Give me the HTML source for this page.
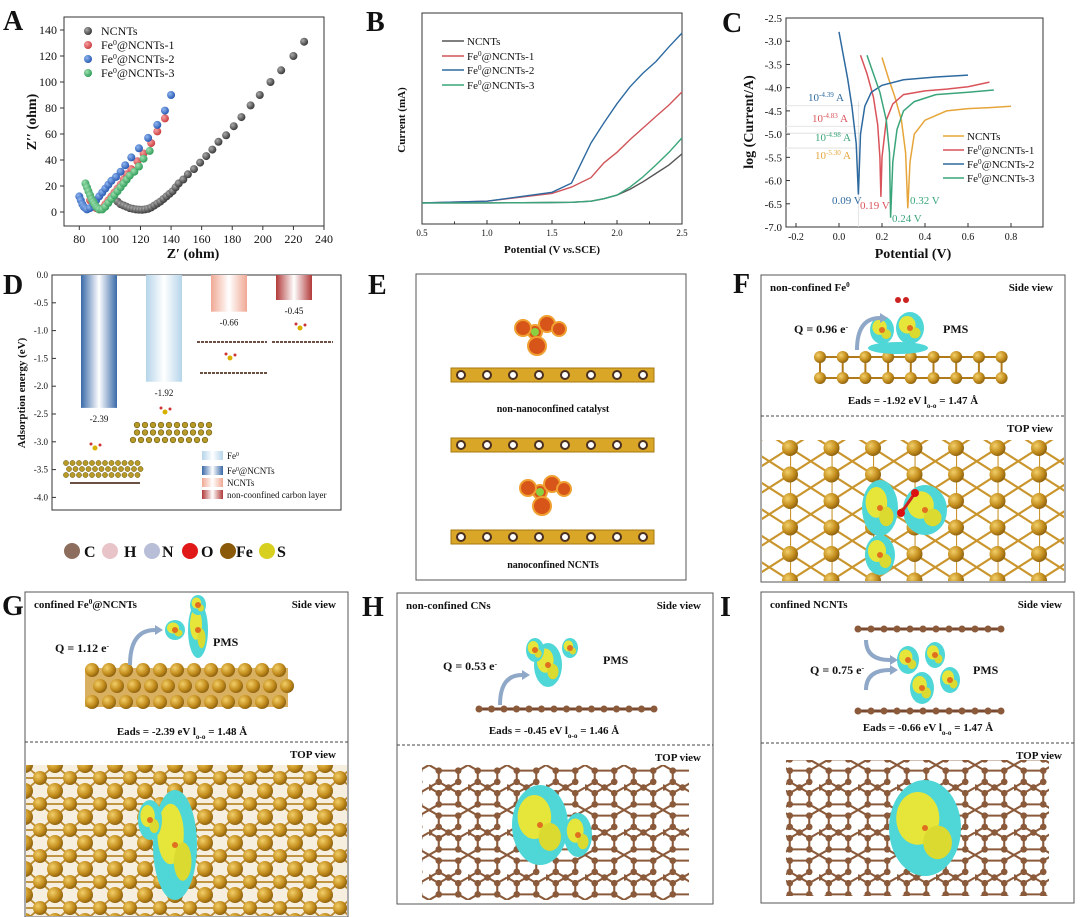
<!DOCTYPE html>
<html><head><meta charset="utf-8">
<style>
html,body{margin:0;padding:0;background:#fff;}
svg{display:block;font-family:"Liberation Serif","Noto Serif CJK SC",serif;}
</style></head>
<body>
<svg id="fig" width="1080" height="917" viewBox="0 0 1080 917" xmlns="http://www.w3.org/2000/svg">
<defs>
  <linearGradient id="gBlue" x1="0" x2="1"><stop offset="0" stop-color="#3a6aa8"/><stop offset="0.5" stop-color="#ffffff"/><stop offset="1" stop-color="#3a6aa8"/></linearGradient>
  <linearGradient id="gLBlue" x1="0" x2="1"><stop offset="0" stop-color="#b6d5ea"/><stop offset="0.5" stop-color="#ffffff"/><stop offset="1" stop-color="#b6d5ea"/></linearGradient>
  <linearGradient id="gSalmon" x1="0" x2="1"><stop offset="0" stop-color="#f0a894"/><stop offset="0.5" stop-color="#ffffff"/><stop offset="1" stop-color="#f0a894"/></linearGradient>
  <linearGradient id="gRed" x1="0" x2="1"><stop offset="0" stop-color="#b23a3a"/><stop offset="0.5" stop-color="#ffffff"/><stop offset="1" stop-color="#b23a3a"/></linearGradient>
  <radialGradient id="ball" cx="0.35" cy="0.35" r="0.7"><stop offset="0" stop-color="#f2cf6a"/><stop offset="0.6" stop-color="#c58f1e"/><stop offset="1" stop-color="#8a5e0e"/></radialGradient>
  <radialGradient id="mk0" cx="0.35" cy="0.35" r="0.7"><stop offset="0" stop-color="#aaa"/><stop offset="1" stop-color="#333"/></radialGradient>
  <radialGradient id="mk1" cx="0.35" cy="0.35" r="0.7"><stop offset="0" stop-color="#f7a0a0"/><stop offset="1" stop-color="#c8393c"/></radialGradient>
  <radialGradient id="mk2" cx="0.35" cy="0.35" r="0.7"><stop offset="0" stop-color="#8fb6f0"/><stop offset="1" stop-color="#2456b0"/></radialGradient>
  <radialGradient id="mk3" cx="0.35" cy="0.35" r="0.7"><stop offset="0" stop-color="#9ee0b0"/><stop offset="1" stop-color="#2a9a55"/></radialGradient>
  <pattern id="feTop" x="790" y="448" width="41.5" height="26.5" patternUnits="userSpaceOnUse">
    <rect width="41.5" height="26.5" fill="#fff"/>
    <path d="M0 0 L41.5 26.5 M41.5 0 L0 26.5 M0 0 V26.5" stroke="#c9952c" stroke-width="2.2"/>
    <circle cx="0" cy="0" r="8" fill="url(#ball)"/><circle cx="41.5" cy="0" r="8" fill="url(#ball)"/>
    <circle cx="0" cy="26.5" r="8" fill="url(#ball)"/><circle cx="41.5" cy="26.5" r="8" fill="url(#ball)"/>
  </pattern>
  <pattern id="feG" x="25" y="765" width="30" height="26" patternUnits="userSpaceOnUse">
    <rect width="30" height="26" fill="#f6eedf"/>
    <path d="M0 0 L30 26 M30 0 L0 26 M0 13 H30" stroke="#b98a2e" stroke-width="1.8"/>
    <circle cx="0" cy="0" r="8" fill="url(#ball)"/><circle cx="30" cy="0" r="8" fill="url(#ball)"/>
    <circle cx="15" cy="13" r="7" fill="url(#ball)"/>
    <circle cx="0" cy="26" r="8" fill="url(#ball)"/><circle cx="30" cy="26" r="8" fill="url(#ball)"/>
  </pattern>
  <pattern id="hex" width="26" height="30" patternUnits="userSpaceOnUse" patternTransform="scale(1.5)">
    <path d="M0 0 L6.5 3.75 L6.5 11.25 L0 15 L6.5 18.75 L6.5 26.25 L0 30 M6.5 3.75 L19.5 3.75 M6.5 11.25 L13 15 L19.5 11.25 M19.5 3.75 L26 0 M19.5 3.75 L19.5 11.25 M19.5 18.75 L26 15 M19.5 18.75 L19.5 26.25 L26 30 M6.5 26.25 L19.5 26.25 M6.5 18.75 L13 15 L19.5 18.75" stroke="#8a5a3a" stroke-width="1.4" fill="none"/>
    <circle cx="6.5" cy="3.75" r="2.2" fill="#8a5a3a"/><circle cx="19.5" cy="3.75" r="2.2" fill="#8a5a3a"/>
    <circle cx="6.5" cy="11.25" r="2.2" fill="#8a5a3a"/><circle cx="19.5" cy="11.25" r="2.2" fill="#8a5a3a"/>
    <circle cx="6.5" cy="18.75" r="2.2" fill="#8a5a3a"/><circle cx="19.5" cy="18.75" r="2.2" fill="#8a5a3a"/>
    <circle cx="6.5" cy="26.25" r="2.2" fill="#8a5a3a"/><circle cx="19.5" cy="26.25" r="2.2" fill="#8a5a3a"/>
    <circle cx="13" cy="15" r="2.2" fill="#8a5a3a"/><circle cx="0" cy="15" r="2.2" fill="#8a5a3a"/>
  </pattern>
</defs>
<g id="root"></g>
</svg>
<script>
// ---------- Panel A data (Nyquist) ----------
const aSeries = ["NCNTs","Fe0@NCNTs-1","Fe0@NCNTs-2","Fe0@NCNTs-3"];
const aX0 = [105,107,109,111,113,115,117,119,121,123,125,127,129,131,133,135,137,139,141,143,145,148,151,155,159,163,167,171,176,181,186,192,198,205,212,220,227];
const aY0 = [8,6,5,4,3,2.5,2,1.8,1.7,2,2.5,3.5,5,6.5,8,10,12,14,16,19,22,25,29,33,38,43,48,54,59,66,73,82,90,100,109,120,131];
const aX1 = [87,89,91,93,95,97,99,101,103,105,107,109,111,114,118,122,127,131,136];
const aY1 = [9,5,3,2,3,6,9,12,15,18,21,25,29,33,39,45,53,62,72];
const aX2 = [80,81,82,83,84,85,87,89,91,93,95,97,99,101,104,107,110,114,119,125,131,136,140];
const aY2 = [12,9,6,4,3,2,3,6,9,12,15,18,21,24,27,31,36,42,49,57,67,78,90];
const aX3 = [84,85,86,87,88,89,90,91,92,93,95,97,99,101,103,105,107,109,111,113,116,119,122,126];
const aY3 = [22,19,16,13,10,8,6,4,3,2,2,4,7,10,13,16,19,22,25,28,31,35,41,47];
const aXTicks = [80,100,120,140,160,180,200,220,240];
const aYTicks = [0,20,40,60,80,100,120,140];

// ---------- Panel B data (LSV) ----------
const bSeries = ["NCNTs","Fe0@NCNTs-1","Fe0@NCNTs-2","Fe0@NCNTs-3"];
const bV = [0.5,1.0,1.5,1.65,1.8,1.9,2.0,2.1,2.2,2.3,2.4,2.5];
const bNCNT = [1.0,1.0,1.02,1.03,1.08,1.2,1.37,1.65,2.0,2.4,2.8,3.32];
const bFe1  = [1.0,1.08,1.45,1.75,2.2,2.9,3.4,4.0,4.55,5.1,5.64,6.26];
const bFe2  = [1.0,1.08,1.5,1.94,3.84,4.8,5.7,6.5,7.15,7.7,8.4,9.05];
const bFe3  = [1.0,1.0,1.02,1.03,1.08,1.2,1.37,1.75,2.23,2.8,3.4,4.08];
const bXTicks = [0.5,1.0,1.5,2.0,2.5];

// ---------- Panel C data (Tafel) ----------
const cSeries = ["NCNTs","Fe0@NCNTs-1","Fe0@NCNTs-2","Fe0@NCNTs-3"];
const cV0 = [0.2,0.23,0.26,0.29,0.31,0.32,0.33,0.35,0.4,0.5,0.6,0.7,0.8];
const cL0 = [-3.35,-3.8,-4.2,-4.7,-5.4,-6.6,-5.6,-5.0,-4.7,-4.5,-4.45,-4.43,-4.4];
const cV1 = [0.10,0.13,0.16,0.18,0.19,0.195,0.2,0.22,0.25,0.3,0.4,0.5,0.6,0.7];
const cL1 = [-3.3,-3.7,-4.2,-4.8,-5.5,-6.35,-5.5,-4.7,-4.35,-4.15,-4.07,-4.03,-3.98,-3.88];
const cV2 = [0.0,0.02,0.04,0.06,0.08,0.09,0.10,0.12,0.15,0.2,0.3,0.45,0.6];
const cL2 = [-2.8,-3.3,-3.8,-4.4,-5.2,-6.3,-5.0,-4.4,-4.1,-3.95,-3.83,-3.77,-3.73];
const cV3 = [0.13,0.16,0.19,0.22,0.235,0.24,0.25,0.27,0.3,0.35,0.45,0.6,0.72];
const cL3 = [-3.3,-3.7,-4.1,-4.7,-5.4,-6.8,-5.6,-4.9,-4.5,-4.3,-4.15,-4.1,-4.05];
const cXTicks = [-0.2,0.0,0.2,0.4,0.6,0.8];
const cYTicks = [-2.5,-3.0,-3.5,-4.0,-4.5,-5.0,-5.5,-6.0,-6.5,-7.0];
const cIcorr = ["-4.39","-4.83","-4.98","-5.30"];
const cIcorrVal = [-4.39,-4.83,-4.98,-5.30];
const cEcorr = ["0.09 V","0.19 V","0.32 V","0.24 V"];

// ---------- Panel D data (adsorption energy) ----------
const dCats = ["Fe0@NCNTs","Fe0","NCNTs","non-coonfined carbon layer"];
const dVals = [-2.39,-1.92,-0.66,-0.45];
const dLabels = ["-2.39","-1.92","-0.66","-0.45"];
const dYTicks = [0.0,-0.5,-1.0,-1.5,-2.0,-2.5,-3.0,-3.5,-4.0];

const NS="http://www.w3.org/2000/svg";
const root=document.getElementById('root');
function mk(tag,attrs,parent){const e=document.createElementNS(NS,tag);for(const k in attrs)e.setAttribute(k,attrs[k]);(parent||root).appendChild(e);return e;}
function txt(x,y,s,size,opts,parent){const o=Object.assign({x:x,y:y,'font-size':size,fill:'#111'},opts||{});const e=mk('text',o,parent);e.textContent=s;return e;}
function grp(name){const g=mk('g',{});return g;}
function sup(t,base,s){const b=document.createElementNS(NS,'tspan');b.textContent=base;t.appendChild(b);const u=document.createElementNS(NS,'tspan');u.setAttribute('baseline-shift','super');u.setAttribute('font-size','65%');u.textContent=s;t.appendChild(u);return t;}

const letters=[["A",3,30],["B",366,31],["C",722,32],["D",3,294],["E",368,294],["F",733,293],["G",2,615],["H",362,616],["I",720,616]];
letters.forEach(l=>{const t=txt(l[1],l[2],l[0],28,{'font-weight':'bold'});});

// ===== Panel A =====
(function(){
const g=grp('panel-a-nyquist-chart');
const L=64,R=324,T=17,B=226;
const xA=v=>L+(v-70)/(240-70)*(R-L);
const yA=v=>212-v*1.3;
const fr=mk('rect',{x:L,y:T,width:R-L,height:B-T,fill:'none',stroke:'#333','stroke-width':1},g);

aXTicks.forEach(v=>{mk('line',{x1:xA(v),x2:xA(v),y1:B,y2:B+4,stroke:'#333'},g);const t=txt(xA(v),B+17,String(v),12,{'text-anchor':'middle'},g);});
aYTicks.forEach(v=>{mk('line',{x1:L-4,x2:L,y1:yA(v),y2:yA(v),stroke:'#333'},g);const t=txt(L-7,yA(v)+4,String(v),12,{'text-anchor':'end'},g);});
const xt=txt(193,258,"Z′ (ohm)",14,{'font-weight':'bold','text-anchor':'middle'},g);
const yt=txt(0,0,"Z′′ (ohm)",14,{'font-weight':'bold','text-anchor':'middle',transform:'translate(36,122) rotate(-90)'},g);
const sets=[[aX0,aY0],[aX1,aY1],[aX2,aY2],[aX3,aY3]];
sets.forEach((s,i)=>{s[0].forEach((x,j)=>{if(s[1][j]===undefined)return;const c=mk('circle',{cx:xA(x),cy:yA(s[1][j]),r:4,fill:'url(#mk'+i+')'},g);});});
const ly=[35,49,63,77];
aSeries.forEach((n,i)=>{const c=mk('circle',{cx:88,cy:ly[i]-4,r:4,fill:'url(#mk'+i+')'},g);
 const t=txt(101,ly[i],'',12,{},g);if(i===0)t.textContent=n;else sup(t,'Fe','0').appendChild(document.createTextNode('@NCNTs-'+i));});
})();

// ===== Panel B =====
(function(){
const g=grp('panel-b-lsv-chart');
const L=422,R=682,T=13,B=224;
const xB=v=>L+(v-0.5)/2*(R-L);
const yB=v=>B-v*21.1;
const fr=mk('rect',{x:L,y:T,width:R-L,height:B-T,fill:'none',stroke:'#333'},g);
for(let v=0.5;v<=2.501;v+=0.25){mk('line',{x1:xB(v),x2:xB(v),y1:B,y2:B-(Math.abs(v*2-Math.round(v*2))<0.01?4:2.5),stroke:'#333'},g);}
bXTicks.forEach(v=>{const t=txt(xB(v),B+12,v.toFixed(1),9,{'text-anchor':'middle'},g);});
const xt=txt(552,253,'',11,{'font-weight':'bold','text-anchor':'middle'},g);xt.innerHTML='Potential (V <tspan font-style="italic">vs.</tspan>SCE)';
const yt=txt(0,0,"Current (mA)",11,{'font-weight':'bold','text-anchor':'middle',transform:'translate(405,120) rotate(-90)'},g);
const cols=['#555','#d0555a','#2e6aa0','#3aa57a'];
[bNCNT,bFe1,bFe2,bFe3].forEach((arr,i)=>{const d=arr.map((v,j)=>(j?'L':'M')+xB(bV[j]).toFixed(1)+' '+yB(v).toFixed(1)).join(' ');const p=mk('path',{d:d,fill:'none',stroke:cols[i],'stroke-width':1.4},g);});
const ly=[41,56,70,85];
bSeries.forEach((n,i)=>{const l=mk('line',{x1:442,x2:464,y1:ly[i],y2:ly[i],stroke:cols[i],'stroke-width':1.4},g);
 const t=txt(467,ly[i]+4,'',11,{},g);if(i===0)t.textContent=n;else sup(t,'Fe','0').appendChild(document.createTextNode('@NCNTs-'+i));});
})();

// ===== Panel C =====
(function(){
const g=grp('panel-c-tafel-chart');
const L=786,R=1043,T=18,B=227;
const xC=v=>839+v*215;
const yC=v=>T+(-2.5-v)/4.5*(B-T);
const fr=mk('rect',{x:L,y:T,width:R-L,height:B-T,fill:'none',stroke:'#333'},g);
cXTicks.forEach(v=>{mk('line',{x1:xC(v),x2:xC(v),y1:B,y2:B-4,stroke:'#333'},g);const t=txt(xC(v),B+13,v.toFixed(1),10,{'text-anchor':'middle'},g);});
cYTicks.forEach(v=>{mk('line',{x1:L,x2:L+4,y1:yC(v),y2:yC(v),stroke:'#333'},g);const t=txt(L-4,yC(v)+4,v.toFixed(1),11,{'text-anchor':'end'},g);});
const xt=txt(913,258,"Potential (V)",14,{'font-weight':'bold','text-anchor':'middle'},g);
const yt=txt(0,0,"log (Current/A)",14,{'font-weight':'bold','text-anchor':'middle',transform:'translate(753,122) rotate(-90)'},g);
const cols=['#e6a53a','#d9535a','#2e6aa0','#3aa57a'];
cIcorrVal.forEach((v,i)=>{mk('line',{x1:L,x2:xC(0.1),y1:yC(v),y2:yC(v),stroke:'#ddd','stroke-width':0.8},g);});
mk('line',{x1:xC(0.09),x2:xC(0.09),y1:yC(-4.3),y2:B,stroke:'#ddd','stroke-width':0.8},g);
[[cV0,cL0],[cV1,cL1],[cV2,cL2],[cV3,cL3]].forEach((s,i)=>{const d=s[0].map((v,j)=>(j?'L':'M')+xC(v).toFixed(1)+' '+yC(s[1][j]).toFixed(1)).join(' ');const p=mk('path',{d:d,fill:'none',stroke:cols[i],'stroke-width':1.5},g);});
const icol=['#2e6aa0','#d9535a','#3aa57a','#e6a53a'];const ipos=[[808,101],[812,122],[815,141],[815,159]];
cIcorr.forEach((s,i)=>{const t=txt(ipos[i][0],ipos[i][1],'',11,{fill:icol[i]},g);sup(t,'10',s).appendChild(document.createTextNode(' A'));});
const epos=[[832,204,'#2e6aa0'],[860,209,'#d9535a'],[910,204,'#3aa57a'],[892,222,'#3aa57a']];
cEcorr.forEach((s,i)=>{const t=txt(epos[i][0],epos[i][1],s,11,{fill:epos[i][2]},g);});
const ly=[136,150,164,178];
cSeries.forEach((n,i)=>{const l=mk('line',{x1:943,x2:964,y1:ly[i],y2:ly[i],stroke:cols[i],'stroke-width':1.5},g);
 const t=txt(967,ly[i]+4,'',11,{},g);if(i===0)t.textContent=n;else sup(t,'Fe','0').appendChild(document.createTextNode('@NCNTs-'+i));});
})();

// ===== Panel D =====
(function(){
const g=grp('panel-d-adsorption-chart');
const L=52,R=341,T=275,B=510;
const yD=v=>275-v*55.6;
const fr=mk('rect',{x:L,y:T,width:R-L,height:B-T,fill:'none',stroke:'#333'},g);
dYTicks.forEach(v=>{mk('line',{x1:L,x2:L+4,y1:yD(v),y2:yD(v),stroke:'#333'},g);const t=txt(L-4,yD(v)+3,v.toFixed(1),9,{'text-anchor':'end'},g);});
const yt=txt(0,0,"Adsorption energy (eV)",11,{'font-weight':'bold','text-anchor':'middle',transform:'translate(25,393) rotate(-90)'},g);
const fills=['url(#gBlue)','url(#gLBlue)','url(#gSalmon)','url(#gRed)'];
const bx0=81,bw=36,gap=65;
dVals.forEach((v,i)=>{const x=bx0+i*gap;const r=mk('rect',{x:x,y:yD(0),width:bw,height:yD(v)-yD(0),fill:fills[i]},g);
 const t=txt(x+bw/2,yD(v)+14,dLabels[i],9,{'text-anchor':'middle'},g);});
const lg=[["Fe","0","url(#gLBlue)",459],["Fe","0@NCNTs","url(#gBlue)",474],["NCNTs","","url(#gSalmon)",486],["non-coonfined carbon layer","","url(#gRed)",498]];
lg.forEach(e=>{const r=mk('rect',{x:202,y:e[3]-8,width:21,height:9,fill:e[2]},g);
 const t=txt(227,e[3],'',9,{},g);if(e[1]){const b=document.createElementNS(NS,'tspan');b.textContent=e[0];t.appendChild(b);const u=document.createElementNS(NS,'tspan');u.setAttribute('baseline-shift','super');u.setAttribute('font-size','65%');u.textContent='0';t.appendChild(u);if(e[1].length>1)t.appendChild(document.createTextNode(e[1].slice(1)));}else t.textContent=e[0];});
for(let r=0;r<3;r++)for(let c=0;c<10;c++){mk('circle',{cx:137+c*8+(r==2?-4:0),cy:425+r*7.5,r:2.8,fill:'#b89a28',stroke:'#6b5a10','stroke-width':0.6},g);}
for(let r=0;r<3;r++)for(let c=0;c<12;c++){mk('circle',{cx:66+c*6.5+(r%2)*3,cy:463+r*6,r:2.6,fill:'#b89a28',stroke:'#6b5a10','stroke-width':0.5},g);}
mk('line',{x1:70,x2:140,y1:483,y2:483,stroke:'#6d5044','stroke-width':2},g);
mk('line',{x1:197,x2:267,y1:342,y2:342,stroke:'#6d5044','stroke-width':2,'stroke-dasharray':'3 1'},g);
mk('line',{x1:200,x2:267,y1:373,y2:373,stroke:'#6d5044','stroke-width':2,'stroke-dasharray':'3 1'},g);
mk('line',{x1:272,x2:333,y1:342,y2:342,stroke:'#6d5044','stroke-width':2,'stroke-dasharray':'3 1'},g);
[[230,358],[300,328],[165,412],[95,448]].forEach(p=>{mk('circle',{cx:p[0],cy:p[1],r:2.5,fill:'#d7b000'},g);mk('circle',{cx:p[0]-4,cy:p[1]-4,r:1.5,fill:'#c33'},g);mk('circle',{cx:p[0]+5,cy:p[1]-3,r:1.5,fill:'#c33'},g);});
})();

// ===== Atom legend =====
(function(){
const g=grp('atom-color-legend');
const items=[["C","#8d6e5e",72,90],["H","#e8c4c8",110,130],["N","#b8bdd8",152,168],["O","#e01818",190,207],["Fe","#8a5a0a",228,242],["S","#d8d020",267,283]];
items.forEach(it=>{const c=mk('circle',{cx:it[2],cy:551,r:8,fill:it[1]},g);
 const t=txt(it[3]-6,557,it[0],16,{'font-weight':'bold'},g);});
})();

// ===== Panel E =====
(function(){
const g=grp('panel-e-schematic');
const b=mk('rect',{x:416,y:274,width:270,height:306,fill:'#fff',stroke:'#555'},g);
function rod(y){mk('rect',{x:451,y:y,width:203,height:14,fill:'#d9a628',stroke:'#a87a10'},g);for(let i=0;i<8;i++){mk('circle',{cx:461+i*26,cy:y+7,r:4,fill:'#fff',stroke:'#4a3020','stroke-width':2},g);}}
function mol(cx,cy){[[0,0,7],[-12,-4,8],[12,-8,8],[24,-3,7],[2,14,9]].forEach(a=>mk('circle',{cx:cx+a[0],cy:cy+a[1],r:a[2],fill:'#d8551a',stroke:'#f0a030','stroke-width':2},g));mk('circle',{cx:cx,cy:cy,r:4,fill:'#8ad040'},g);}
rod(368);rod(438);rod(530);mol(535,332);mol(540,492);
const t1=txt(553,412,"non-nanoconfined catalyst",10,{'font-weight':'bold','text-anchor':'middle'},g);
const t2=txt(553,568,"nanoconfined NCNTs",10,{'font-weight':'bold','text-anchor':'middle'},g);
})();

function panel(name,x,y,w,h,dash,title,q,pms,eads,len){
 const g=grp(name);
 const b=mk('rect',{x:x,y:y,width:w,height:h,fill:'#fff',stroke:'#555'},g);
 const d=mk('line',{x1:x,x2:x+w,y1:dash,y2:dash,stroke:'#444','stroke-dasharray':'3 2'},g);
 const t=txt(x+9,y+16,'',11,{'font-weight':'bold'},g);
 if(Array.isArray(title)){sup(t,title[0],'0');if(title[1])t.appendChild(document.createTextNode(title[1]));}else t.textContent=title;
 
 const s=txt(x+w-12,y+16,"Side view",11,{'font-weight':'bold','text-anchor':'end'},g);
 const tv=txt(x+w-12,dash+16,"TOP view",11,{'font-weight':'bold','text-anchor':'end'},g);
 const qt=txt(q[0],q[1],'Q = '+q[2]+' e',12,{'font-weight':'bold'},g);const qs=document.createElementNS(NS,'tspan');qs.setAttribute('baseline-shift','super');qs.setAttribute('font-size','65%');qs.textContent='-';qt.appendChild(qs);
 const p=txt(pms[0],pms[1],"PMS",12,{'font-weight':'bold'},g);
 const e=txt(eads[0],eads[1],'',11,{'font-weight':'bold','text-anchor':'middle'},g);e.innerHTML='Eads = '+eads[2]+' eV  l<tspan baseline-shift="sub" font-size="65%">o-o</tspan> = '+len+' Å';
 return g;}
function blob(g,cx,cy,sx,sy){mk('ellipse',{cx:cx,cy:cy,rx:sx,ry:sy,fill:'#4fd6d6'},g);mk('ellipse',{cx:cx-sx*0.2,cy:cy-sy*0.2,rx:sx*0.6,ry:sy*0.55,fill:'#e6e63a'},g);mk('ellipse',{cx:cx+sx*0.35,cy:cy+sy*0.3,rx:sx*0.4,ry:sy*0.35,fill:'#dada30'},g);mk('circle',{cx:cx,cy:cy,r:3,fill:'#e07020'},g);}
function arrow(g,x1,y1,x2,y2){mk('path',{d:`M${x1} ${y1} Q ${x1} ${y2} ${x2} ${y2}`,fill:'none',stroke:'#8fa8c8','stroke-width':4},g);mk('path',{d:`M${x2} ${y2-5} L${x2+8} ${y2} L${x2} ${y2+5}Z`,fill:'#8fa8c8'},g);}

// ===== Panel F =====
(function(){
const g=panel('panel-f-non-confined-fe',761,275,304,307,416,["non-confined Fe",""],[794,333,'0.96'],[943,333],[913,404,'-1.92'],'1.47');
const tp=mk('rect',{x:762,y:440,width:302,height:141,fill:'url(#feTop)'},g);
for(let c=0;c<9;c++){const x=820+c*22.7;mk('line',{x1:x,x2:x,y1:357,y2:378,stroke:'#b07a1a','stroke-width':2},g);}
mk('line',{x1:820,x2:1002,y1:357,y2:357,stroke:'#b07a1a','stroke-width':2},g);mk('line',{x1:820,x2:1002,y1:378,y2:378,stroke:'#b07a1a','stroke-width':2},g);
for(let c=0;c<9;c++)for(let r=0;r<2;r++)mk('circle',{cx:820+c*22.7,cy:357+r*21,r:6,fill:'url(#ball)'},g);
mk('ellipse',{cx:898,cy:348,rx:30,ry:6,fill:'#4fd6d6'},g);blob(g,882,330,12,14);blob(g,910,328,14,16);
mk('circle',{cx:906,cy:300,r:3,fill:'#c22'},g);mk('circle',{cx:898,cy:300,r:3,fill:'#c22'},g);
arrow(g,857,350,880,318);
blob(g,880,508,18,28);blob(g,925,510,22,25);blob(g,880,555,15,20);
mk('line',{x1:901,x2:915,y1:513,y2:493,stroke:'#c22','stroke-width':3},g);mk('circle',{cx:901,cy:513,r:4,fill:'#d11'},g);mk('circle',{cx:915,cy:493,r:4,fill:'#d11'},g);
})();

// ===== Panel G =====
(function(){
const g=panel('panel-g-confined-fe-ncnts',25,592,323,325,742,["confined Fe","@NCNTs"],[55,652,'1.12'],[213,646],[182,735,'-2.39'],'1.48');
const tp=mk('rect',{x:26,y:765,width:321,height:151,fill:'url(#feG)'},g);
const sd=mk('rect',{x:85,y:668,width:203,height:39,fill:'#d8b060'},g);
for(let r=0;r<3;r++)for(let c=0;c<12;c++)mk('circle',{cx:92+c*17+(r%2)*8,cy:670+r*16,r:7,fill:'url(#ball)'},g);
blob(g,198,630,10,28);blob(g,175,630,10,10);blob(g,198,605,8,10);
arrow(g,130,665,155,630);
blob(g,175,845,22,55);blob(g,150,820,12,20);
})();

// ===== Panel H =====
(function(){
const g=panel('panel-h-non-confined-cns',397,593,316,311,745,"non-confined CNs",[443,670,'0.53'],[603,664],[554,734,'-0.45'],'1.46');
const tp=mk('rect',{x:422,y:765,width:267,height:135,fill:'url(#hex)'},g);
mk('line',{x1:477,x2:654,y1:709,y2:709,stroke:'#7a4a30','stroke-width':3},g);
for(let i=0;i<15;i++)mk('circle',{cx:479+i*12.5,cy:709,r:3.5,fill:'#8a5a3a'},g);
blob(g,548,665,14,22);blob(g,535,650,9,12);blob(g,570,648,8,10);
arrow(g,500,705,522,675);
blob(g,540,825,28,40);blob(g,578,835,14,22);
})();

// ===== Panel I =====
(function(){
const g=panel('panel-i-confined-ncnts',761,592,313,311,743,"confined NCNTs",[810,674,'0.75'],[973,674],[928,731,'-0.66'],'1.47');
const tp=mk('rect',{x:786,y:760,width:263,height:136,fill:'url(#hex)'},g);
[629,711].forEach(y=>{mk('line',{x1:856,x2:1004,y1:y,y2:y,stroke:'#7a4a30','stroke-width':3},g);for(let i=0;i<12;i++)mk('circle',{cx:858+i*13,cy:y,r:3.5,fill:'#8a5a3a'},g);});
blob(g,908,660,11,14);blob(g,935,655,10,13);blob(g,922,688,12,16);blob(g,950,680,10,13);
arrow(g,866,690,890,670);arrow(g,866,640,890,660);
blob(g,925,828,36,48);
})();
</script>
</body></html>
